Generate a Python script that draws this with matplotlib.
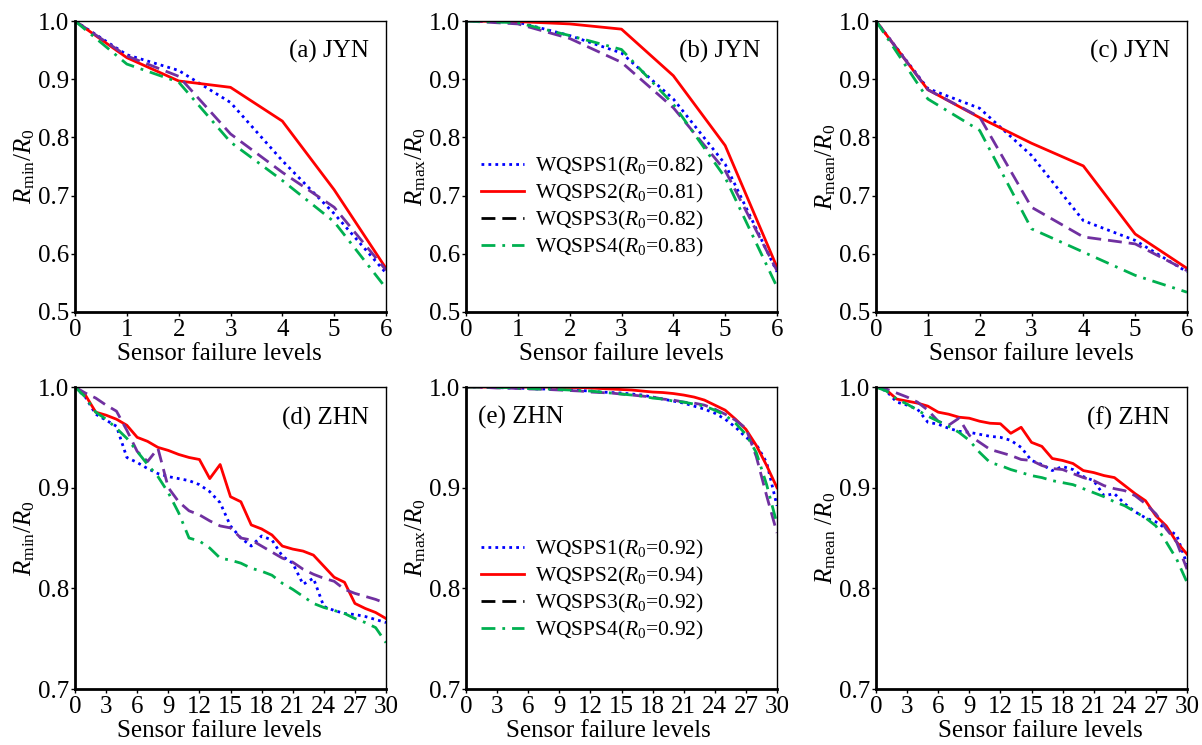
import numpy as np
import matplotlib
matplotlib.use("Agg")
import matplotlib.pyplot as plt
from matplotlib.lines import Line2D

plt.rcParams["font.family"] = ["Liberation Serif", "DejaVu Serif"]
plt.rcParams["mathtext.fontset"] = "custom"
plt.rcParams["mathtext.rm"] = "Liberation Serif"
plt.rcParams["mathtext.it"] = "Liberation Serif:italic"

# ---------------------------------------------------------------------
# Datos
# ---------------------------------------------------------------------
x_jyn = [0, 1, 2, 3, 4, 5, 6]
x_zhn = list(range(31))

series_names = ["WQSPS1", "WQSPS2", "WQSPS3", "WQSPS4"]
r0_jyn = ["0.82", "0.81", "0.82", "0.83"]
r0_zhn = ["0.92", "0.94", "0.92", "0.92"]

# (a) JYN - Rmin/R0
a_s1 = [1.0, 0.942, 0.915, 0.860, 0.760, 0.669, 0.567]
a_s2 = [1.0, 0.937, 0.897, 0.886, 0.828, 0.710, 0.575]
a_s3 = [1.0, 0.940, 0.905, 0.806, 0.740, 0.680, 0.572]
a_s4 = [1.0, 0.926, 0.895, 0.792, 0.726, 0.655, 0.541]

# (b) JYN - Rmax/R0
b_s1 = [1.0, 0.998, 0.975, 0.945, 0.866, 0.754, 0.569]
b_s2 = [1.0, 0.999, 0.995, 0.986, 0.906, 0.786, 0.577]
b_s3 = [1.0, 0.995, 0.970, 0.929, 0.851, 0.743, 0.571]
b_s4 = [1.0, 0.997, 0.975, 0.951, 0.857, 0.731, 0.543]

# (c) JYN - Rmean/R0
c_s1 = [1.0, 0.884, 0.850, 0.769, 0.657, 0.623, 0.569]
c_s2 = [1.0, 0.882, 0.834, 0.790, 0.751, 0.634, 0.575]
c_s3 = [1.0, 0.882, 0.835, 0.680, 0.629, 0.617, 0.571]
c_s4 = [1.0, 0.866, 0.812, 0.643, 0.603, 0.563, 0.534]

# (d) ZHN - Rmin/R0
d_s1 = [1.0, 0.990, 0.973, 0.967, 0.961, 0.930, 0.925, 0.919, 0.914, 0.911,
        0.909, 0.907, 0.903, 0.896, 0.885, 0.862, 0.850, 0.842, 0.852, 0.848,
        0.832, 0.825, 0.804, 0.810, 0.782, 0.778, 0.775, 0.774, 0.772, 0.769,
        0.766]
d_s2 = [1.0, 0.992, 0.975, 0.972, 0.968, 0.962, 0.950, 0.946, 0.940, 0.937,
        0.933, 0.930, 0.928, 0.909, 0.923, 0.891, 0.886, 0.863, 0.859, 0.853,
        0.842, 0.839, 0.837, 0.833, 0.822, 0.811, 0.806, 0.785, 0.780, 0.776,
        0.770]
d_s3 = [1.0, 0.994, 0.989, 0.982, 0.976, 0.957, 0.936, 0.926, 0.939, 0.900,
        0.886, 0.877, 0.873, 0.867, 0.862, 0.860, 0.850, 0.848, 0.842, 0.836,
        0.830, 0.826, 0.819, 0.814, 0.810, 0.807, 0.799, 0.795, 0.792, 0.789,
        0.785]
d_s4 = [1.0, 0.990, 0.975, 0.968, 0.959, 0.949, 0.936, 0.923, 0.911, 0.895,
        0.875, 0.850, 0.847, 0.840, 0.830, 0.828, 0.825, 0.820, 0.817, 0.813,
        0.805, 0.799, 0.792, 0.785, 0.781, 0.778, 0.775, 0.770, 0.766, 0.761,
        0.746]

# (e) ZHN - Rmax/R0
e_s1 = [1.0, 1.0, 0.9995, 0.9995, 0.999, 0.999, 0.9985, 0.998, 0.998, 0.998,
        0.997, 0.9965, 0.996, 0.995, 0.9945, 0.994, 0.993, 0.992, 0.990, 0.988,
        0.986, 0.984, 0.981, 0.978, 0.974, 0.968, 0.960, 0.950, 0.943, 0.925,
        0.882]
e_s2 = [1.0, 1.0, 1.0, 1.0, 1.0, 1.0, 1.0, 1.0, 1.0, 0.9995,
        0.9995, 0.9995, 0.999, 0.9985, 0.998, 0.9975, 0.997, 0.996, 0.995, 0.9945,
        0.9935, 0.992, 0.990, 0.987, 0.982, 0.977, 0.968, 0.958, 0.942, 0.922,
        0.900]
e_s3 = [1.0, 1.0, 0.9995, 0.999, 0.999, 0.9985, 0.998, 0.998, 0.9975, 0.997,
        0.9965, 0.996, 0.995, 0.9945, 0.994, 0.993, 0.992, 0.991, 0.990, 0.988,
        0.987, 0.985, 0.984, 0.982, 0.978, 0.973, 0.967, 0.959, 0.931, 0.892,
        0.855]
e_s4 = [1.0, 1.0, 1.0, 0.9995, 0.9995, 0.999, 0.9985, 0.998, 0.998, 0.9975,
        0.997, 0.9965, 0.996, 0.995, 0.994, 0.993, 0.992, 0.991, 0.989, 0.988,
        0.986, 0.985, 0.983, 0.981, 0.977, 0.972, 0.964, 0.953, 0.935, 0.903,
        0.864]

# (f) ZHN - Rmean/R0
f_s1 = [1.0, 0.996, 0.985, 0.982, 0.978, 0.965, 0.963, 0.959, 0.956, 0.955,
        0.953, 0.951, 0.950, 0.947, 0.940, 0.927, 0.923, 0.917, 0.921, 0.918,
        0.911, 0.907, 0.892, 0.894, 0.884, 0.876, 0.870, 0.866, 0.859, 0.853,
        0.824]
f_s2 = [1.0, 0.997, 0.988, 0.986, 0.984, 0.981, 0.975, 0.973, 0.970, 0.969,
        0.966, 0.964, 0.9635, 0.954, 0.960, 0.945, 0.941, 0.929, 0.927, 0.924,
        0.917, 0.915, 0.912, 0.910, 0.902, 0.894, 0.887, 0.872, 0.862, 0.846,
        0.834]
f_s3 = [1.0, 0.998, 0.994, 0.990, 0.985, 0.977, 0.966, 0.962, 0.969, 0.952,
        0.945, 0.938, 0.935, 0.932, 0.928, 0.927, 0.922, 0.919, 0.918, 0.914,
        0.910, 0.907, 0.902, 0.899, 0.897, 0.892, 0.884, 0.874, 0.859, 0.846,
        0.819]
f_s4 = [1.0, 0.996, 0.988, 0.983, 0.977, 0.971, 0.966, 0.961, 0.955, 0.947,
        0.935, 0.925, 0.922, 0.918, 0.915, 0.912, 0.910, 0.907, 0.905, 0.903,
        0.899, 0.895, 0.891, 0.886, 0.882, 0.876, 0.870, 0.862, 0.846, 0.829,
        0.806]

# ---------------------------------------------------------------------
# Estilos
# ---------------------------------------------------------------------
colores = ["#0000FF", "#FF0000", "#7030A0", "#00B050"]
estilos = [(0, (1, 1.5)), "-", (0, (5, 2.5)), (0, (5, 2.5, 1, 2.5))]
# en la leyenda original WQSPS3 aparece en negro
color_leyenda = ["#0000FF", "#FF0000", "#000000", "#00B050"]

fig = plt.figure(figsize=(12.02, 7.45), dpi=100)
W, H = 1202.0, 745.0
lefts = [75, 466, 876]
ancho = 311
filas = [(21, 312), (387, 689)]

# desplazamiento horizontal (px) del rótulo del eje x en cada panel
desp_xlabel = {(0, 0): -11, (0, 1): 0, (0, 2): 0,
               (1, 0): -11, (1, 1): -13, (1, 2): 9}

paneles = [
    (x_jyn, [a_s1, a_s2, a_s3, a_s4], r"$R_{\mathrm{min}}/R_0$", "(a) JYN", 0, 0),
    (x_jyn, [b_s1, b_s2, b_s3, b_s4], r"$R_{\mathrm{max}}/R_0$", "(b) JYN", 0, 1),
    (x_jyn, [c_s1, c_s2, c_s3, c_s4], r"$R_{\mathrm{mean}}/R_0$", "(c) JYN", 0, 2),
    (x_zhn, [d_s1, d_s2, d_s3, d_s4], r"$R_{\mathrm{min}}/R_0$", "(d) ZHN", 1, 0),
    (x_zhn, [e_s1, e_s2, e_s3, e_s4], r"$R_{\mathrm{max}}/R_0$", "(e) ZHN", 1, 1),
    (x_zhn, [f_s1, f_s2, f_s3, f_s4], r"$R_{\mathrm{mean}}\ /R_0$", "(f) ZHN", 1, 2),
]

for xs, ys, ylab, etiqueta, fila, col in paneles:
    top, bot = filas[fila]
    alto = bot - top
    ax = fig.add_axes([lefts[col] / W, 1 - bot / H, ancho / W, alto / H])
    for y, c, ls in zip(ys, colores, estilos):
        ax.plot(xs, y, color=c, linestyle=ls, linewidth=2)

    if fila == 0:
        ax.set_xlim(0, 6)
        ax.set_ylim(0.5, 1.0)
        ax.set_xticks(range(0, 7))
        ax.set_yticks(np.arange(0.5, 1.01, 0.1))
    else:
        ax.set_xlim(0, 30)
        ax.set_ylim(0.7, 1.0)
        ax.set_xticks(range(0, 31, 3))
        ax.set_yticks(np.arange(0.7, 1.01, 0.1))
    ax.yaxis.set_major_formatter(matplotlib.ticker.FormatStrFormatter("%.1f"))

    ax.tick_params(direction="out", length=3, width=1, labelsize=18, pad=1)
    ax.tick_params(axis="x", pad=2)
    for lado in ["left", "bottom"]:
        ax.spines[lado].set_linewidth(2)
    for lado in ["top", "right"]:
        ax.spines[lado].set_linewidth(1)

    ax.set_xlabel("Sensor failure levels", fontsize=18, va="top")
    ax.set_ylabel(ylab, fontsize=18, labelpad=1)
    dx = desp_xlabel[(fila, col)] / ancho
    ax.xaxis.set_label_coords(0.5 + dx, -31.0 / alto)

    if col == 1 and fila == 1:
        ax.text(0.04, 0.90, etiqueta, transform=ax.transAxes, fontsize=18,
                ha="left", va="center")
    else:
        ax.text(0.945, 0.895, etiqueta, transform=ax.transAxes, fontsize=18,
                ha="right", va="center")

    if col == 1:
        r0 = r0_jyn if fila == 0 else r0_zhn
        handles = [Line2D([], [], color=c, linestyle=ls, linewidth=2)
                   for c, ls in zip(color_leyenda, estilos)]
        labels = [f"{n}($R_0$={v})" for n, v in zip(series_names, r0)]
        anchor_y = 0.59 if fila == 0 else 0.55
        ax.legend(handles, labels, loc="upper left", bbox_to_anchor=(0.0, anchor_y),
                  frameon=False, fontsize=15.5, handlelength=2.0, handletextpad=0.5,
                  labelspacing=0.18, borderaxespad=0.3)

fig.savefig("out.png", dpi=100)
